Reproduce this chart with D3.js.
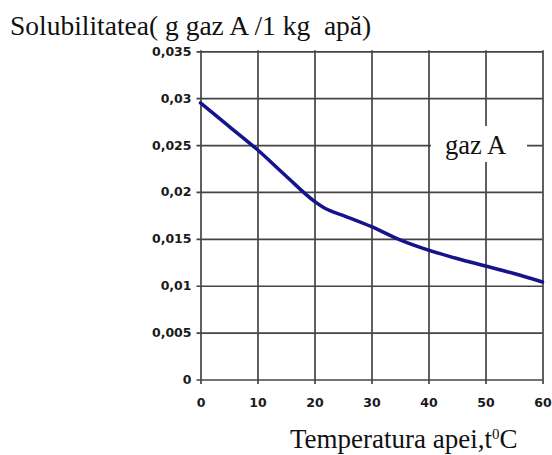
<!DOCTYPE html>
<html>
<head>
<meta charset="utf-8">
<script src="https://cdn.jsdelivr.net/npm/d3@7"></script>
<style>
  body { margin: 0; background: #fff; }
  text { white-space: pre; }
</style>
</head>
<body>
<svg width="552" height="455"></svg>
<script>
// data
var temps = [0, 5, 10, 15, 20, 22, 25, 30, 35, 40, 45, 50, 55, 60];
var solub = [0.0295, 0.0270, 0.0245, 0.0217, 0.0190, 0.0182, 0.0175, 0.0163, 0.0149, 0.0138, 0.0129, 0.0121, 0.0113, 0.0104];
var xTicks = [0, 10, 20, 30, 40, 50, 60];
var yTicks = [0, 0.005, 0.01, 0.015, 0.02, 0.025, 0.03, 0.035];
var yTickLabels = ["0", "0,005", "0,01", "0,015", "0,02", "0,025", "0,03", "0,035"];

var svg = d3.select("svg");

// plot box (note: "top" is a reserved window global, so use other names)
var pLeft = 200.5, pRight = 542.5, pTop = 51.3, pBottom = 379.5;

var x = d3.scaleLinear().domain([0, 60]).range([pLeft, pRight]);
var y = d3.scaleLinear().domain([0, 0.035]).range([pBottom, pTop]);

svg.append("rect").attr("width", 552).attr("height", 455).attr("fill", "#fff");

// vertical grid + x ticks
var gx = svg.append("g")
    .attr("transform", "translate(0," + (pBottom + 4.5) + ")")
    .call(d3.axisBottom(x)
      .tickValues(xTicks)
      .tickSize(-(pBottom + 4.5 - pTop + 1))
      .tickPadding(14)
      .tickFormat(function(d) { return d; }));
gx.select(".domain").remove();

// horizontal grid + y ticks
var gy = svg.append("g")
    .attr("transform", "translate(" + (pLeft - 4) + ",0)")
    .call(d3.axisLeft(y)
      .tickValues(yTicks)
      .tickSize(-(pRight - pLeft + 4))
      .tickPadding(5)
      .tickFormat(function(d, i) { return yTickLabels[i]; }));
gy.select(".domain").remove();

svg.selectAll(".tick line")
    .attr("stroke", "#444")
    .attr("stroke-width", 1.7);
svg.selectAll(".tick text")
    .attr("fill", "#1a1a1a")
    .attr("font-family", "DejaVu Sans")
    .attr("font-weight", "bold")
    .attr("font-size", 12.5);

// white patch behind the series label
svg.append("rect")
    .attr("x", x(40) + 2.5).attr("y", 126)
    .attr("width", 96).attr("height", 36)
    .attr("fill", "#fff");

var line = d3.line()
    .x(function(d, i) { return x(temps[i]); })
    .y(function(d) { return y(d); })
    .curve(d3.curveMonotoneX);

svg.append("path")
    .datum(solub)
    .attr("fill", "none")
    .attr("stroke", "#14148c")
    .attr("stroke-width", 3.5)
    .attr("stroke-linecap", "round")
    .attr("d", line);

svg.append("text")
    .attr("x", 445).attr("y", 154)
    .attr("font-family", "Liberation Serif")
    .attr("font-size", 26.5)
    .attr("fill", "#111")
    .text("gaz A");

svg.append("text")
    .attr("x", 10).attr("y", 35)
    .attr("font-family", "Liberation Serif")
    .attr("font-size", 27.5)
    .attr("fill", "#111")
    .text("Solubilitatea( g gaz A /1 kg  apă)");

var xl = svg.append("text")
    .attr("x", 290).attr("y", 448)
    .attr("font-family", "Liberation Serif")
    .attr("font-size", 27)
    .attr("fill", "#111");
xl.append("tspan").text("Temperatura apei,t");
xl.append("tspan").attr("font-size", 15).attr("dy", -9).text("0");
xl.append("tspan").attr("dy", 9).text("C");
</script>
</body>
</html>
